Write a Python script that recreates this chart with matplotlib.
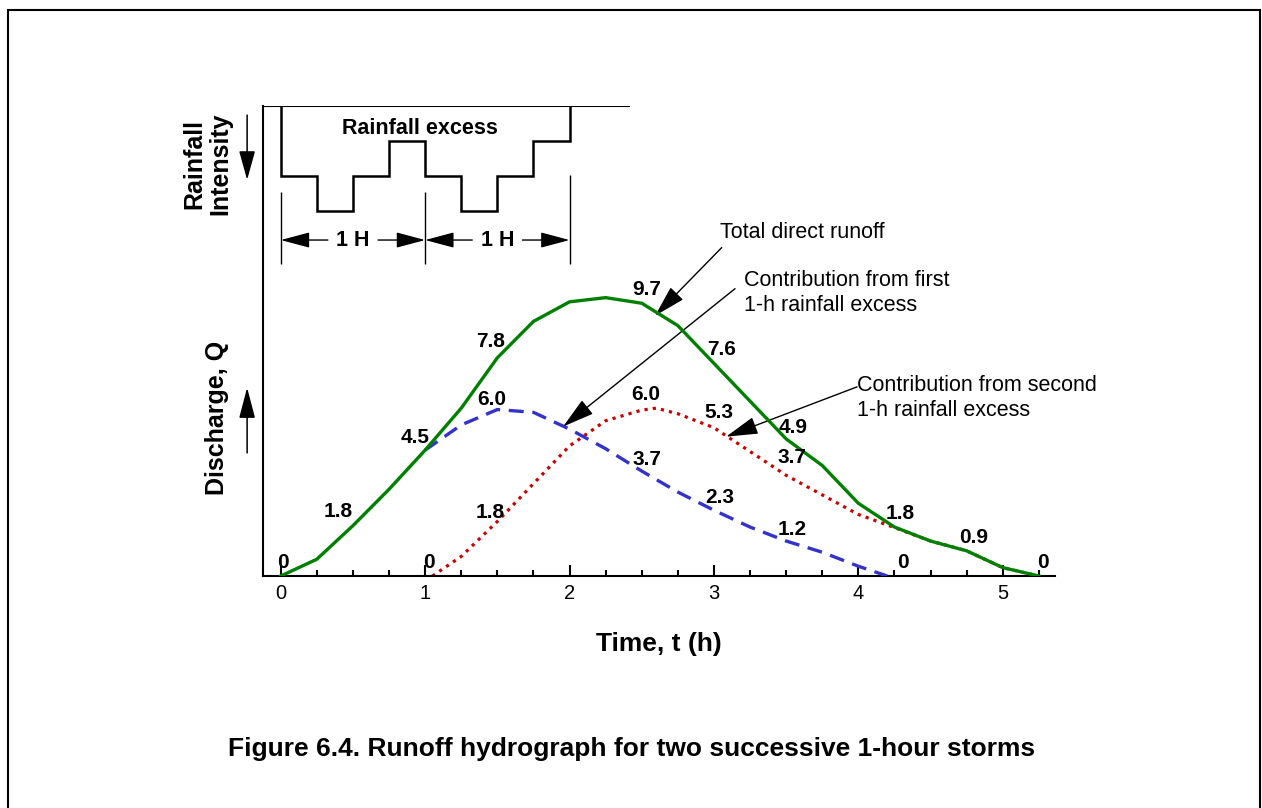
import matplotlib
matplotlib.use("Agg")
import matplotlib.pyplot as plt
from matplotlib.patches import Rectangle
from matplotlib.ticker import MultipleLocator

plt.rcParams['font.family'] = ['Liberation Sans', 'DejaVu Sans']

# Total direct runoff (h, discharge)
hours = [0, 0.25, 0.5, 0.75, 1.0, 1.25, 1.5, 1.75, 2.0, 2.25, 2.5, 2.75,
         3.0, 3.25, 3.5, 3.75, 4.0, 4.25, 4.5, 4.75, 5.0, 5.25]
total_q = [0, 0.6, 1.8, 3.1, 4.5, 6.0, 7.8, 9.1, 9.8, 9.95, 9.75, 8.95,
           7.6, 6.25, 4.9, 3.95, 2.6, 1.75, 1.25, 0.9, 0.3, 0]

# Contribution from first 1-h rainfall excess (drawn from t = 1 h)
first_t = [1.0, 1.25, 1.5, 1.75, 2.0, 2.25, 2.5, 2.75, 3.0, 3.25, 3.5, 3.75, 4.0, 4.2]
first_q = [4.5, 5.4, 5.95, 5.85, 5.25, 4.55, 3.75, 3.0, 2.35, 1.75, 1.25, 0.85, 0.35, 0]

# Contribution from second 1-h rainfall excess
second_t = [1.05, 1.25, 1.5, 1.75, 2.0, 2.25, 2.5, 2.6, 2.75, 3.0, 3.25, 3.5,
            3.75, 4.0, 4.25, 4.5, 4.75, 5.0, 5.25]
second_q = [0, 0.7, 1.95, 3.3, 4.65, 5.55, 5.93, 6.0, 5.8, 5.3, 4.45, 3.6,
            2.9, 2.2, 1.73, 1.25, 0.9, 0.3, 0]

# Rainfall excess hyetograph (relative intensity per 15 min)
rain_edges = [0, 0.25, 0.5, 0.75, 1.0, 1.25, 1.5, 1.75, 2.0]
rain_excess = [2, 3, 2, 1, 2, 3, 2, 1]

# value labels: text, t, Q
total_labels = [("0", 0.016, 0.47), ("1.8", 0.397, 2.30), ("4.5", 0.93, 4.94),
                ("7.8", 1.456, 8.38), ("9.7", 2.535, 10.23), ("7.6", 3.054, 8.09),
                ("4.9", 3.548, 5.30), ("1.8", 4.289, 2.25), ("0.9", 4.795, 1.36),
                ("0", 5.279, 0.47)]
first_labels = [("6.0", 1.463, 6.30), ("3.7", 2.537, 4.15), ("2.3", 3.042, 2.79),
                ("1.2", 3.539, 1.65), ("0", 4.31, 0.47)]
second_labels = [("0", 1.027, 0.47), ("1.8", 1.449, 2.26), ("6.0", 2.53, 6.48),
                 ("5.3", 3.036, 5.83), ("3.7", 3.539, 4.22)]

W, H = 1262, 808
fig = plt.figure(figsize=(W / 100, H / 100), dpi=100)
ax = fig.add_axes([263 / W, 1 - 576 / H, (1055 - 263) / W, (576 - 106) / H])
ax.set_xlim(-0.123, 5.362)
ax.set_ylim(0, 16.8)

# hydrographs
ax.plot(second_t, second_q, color='#CC0000', lw=2.3, linestyle=(0, (1, 1.6)),
        dash_capstyle='butt', zorder=2)
ax.plot(first_t, first_q, color='#3333CC', lw=2.4, linestyle=(0, (4.5, 2.6)), zorder=3)
ax.plot(hours, total_q, color='#008000', lw=2.4, zorder=4)

for labels in (total_labels, first_labels, second_labels):
    for txt, x, y in labels:
        ax.text(x, y, txt, ha='center', va='center', fontsize=15, fontweight='bold', zorder=5)

# axes styling
for s in ('top', 'right'):
    ax.spines[s].set_visible(False)
ax.spines['left'].set_linewidth(1.5)
ax.spines['bottom'].set_linewidth(1.5)
ax.set_yticks([])
ax.set_xticks([0, 1, 2, 3, 4, 5])
ax.xaxis.set_minor_locator(MultipleLocator(0.25))
ax.tick_params(axis='x', which='major', direction='in', length=8, width=1.5,
               labelsize=14.5, pad=5.5)
ax.tick_params(axis='x', which='minor', direction='in', length=4.3, width=1.5)
ax.set_xlabel("Time, t (h)", fontsize=19, fontweight='bold')
ax.xaxis.set_label_coords(0.5, -0.12)

# callouts
arrow_kw = dict(arrowstyle='-|>,head_length=2.0,head_width=0.55', color='k', lw=1.0,
                mutation_scale=10, shrinkA=0, shrinkB=0)
ax.text(3.042, 12.27, "Total direct runoff", fontsize=15.5, ha='left', va='center')
ax.annotate("", xy=(2.592, 9.30), xytext=(3.054, 11.74), arrowprops=arrow_kw)
ax.text(3.208, 10.11, "Contribution from first\n1-h rainfall excess", fontsize=15.5,
        ha='left', va='center', linespacing=1.22)
ax.annotate("", xy=(1.955, 5.34), xytext=(3.146, 10.27), arrowprops=arrow_kw)
ax.text(3.991, 6.36, "Contribution from second\n1-h rainfall excess", fontsize=15.5,
        ha='left', va='center', linespacing=1.22)
ax.annotate("", xy=(3.084, 4.98), xytext=(3.991, 6.76), arrowprops=arrow_kw)

# discharge arrow
ax.annotate("", xy=(-0.233, 6.73), xytext=(-0.233, 4.4), annotation_clip=False,
            arrowprops=dict(arrowstyle='-|>,head_length=1.9,head_width=0.5', color='k',
                            lw=1.1, mutation_scale=10, shrinkA=0, shrinkB=0))

# rainfall axis (intensity increasing downward)
ax2 = ax.twinx()
ax2.set_ylim(13.43, 0)
for s in ax2.spines.values():
    s.set_visible(False)
ax2.set_yticks([])
ax2.hlines(0, -0.123, 2.42, color='k', lw=1.5)
ax2.stairs(rain_excess, rain_edges, baseline=0, color='k', lw=1.8)
ax2.text(0.965, 0.64, "Rainfall excess", fontsize=15.5, fontweight='bold',
         ha='center', va='center')
ax2.vlines([0, 1], 2.47, 4.52, color='k', lw=1.0)
ax2.vlines([2], 1.98, 4.52, color='k', lw=1.0)
dim_kw = dict(arrowstyle='-|>,head_length=1.8,head_width=0.48', color='k', lw=1.0,
              mutation_scale=10, shrinkA=4, shrinkB=0)
for a, b in ((0, 1), (1, 2)):
    mid = (a + b) / 2
    ax2.annotate("1 H", xy=(a, 3.83), xytext=(mid, 3.83), fontsize=15.5, fontweight='bold',
                 ha='center', va='center', arrowprops=dim_kw)
    ax2.annotate("1 H", xy=(b, 3.83), xytext=(mid, 3.83), fontsize=15.5, fontweight='bold',
                 ha='center', va='center', color='none', arrowprops=dim_kw)
ax2.annotate("", xy=(-0.233, 2.11), xytext=(-0.233, 0.26), annotation_clip=False,
             arrowprops=dict(arrowstyle='-|>,head_length=1.8,head_width=0.5', color='k',
                             lw=1.1, mutation_scale=10, shrinkA=0, shrinkB=0))

# axis titles outside the axes
fig.text(207 / W, 1 - 164 / H, "Rainfall\nIntensity", rotation=90, fontsize=18,
         fontweight='bold', ha='center', va='center', multialignment='center',
         linespacing=1.1)
fig.text(217 / W, 1 - 418 / H, "Discharge, Q", rotation=90, fontsize=18,
         fontweight='bold', ha='center', va='center')

fig.text(632 / W, 1 - 749 / H, "Figure 6.4. Runoff hydrograph for two successive 1-hour storms",
         fontsize=19, fontweight='bold', ha='center', va='center')

# page frame
fig.add_artist(Rectangle((8 / W, -0.05), 1252 / W, 1 - 10 / H + 0.05,
                         transform=fig.transFigure, fill=False, lw=1.5, ec='k'))

fig.savefig("out.png", dpi=100)
